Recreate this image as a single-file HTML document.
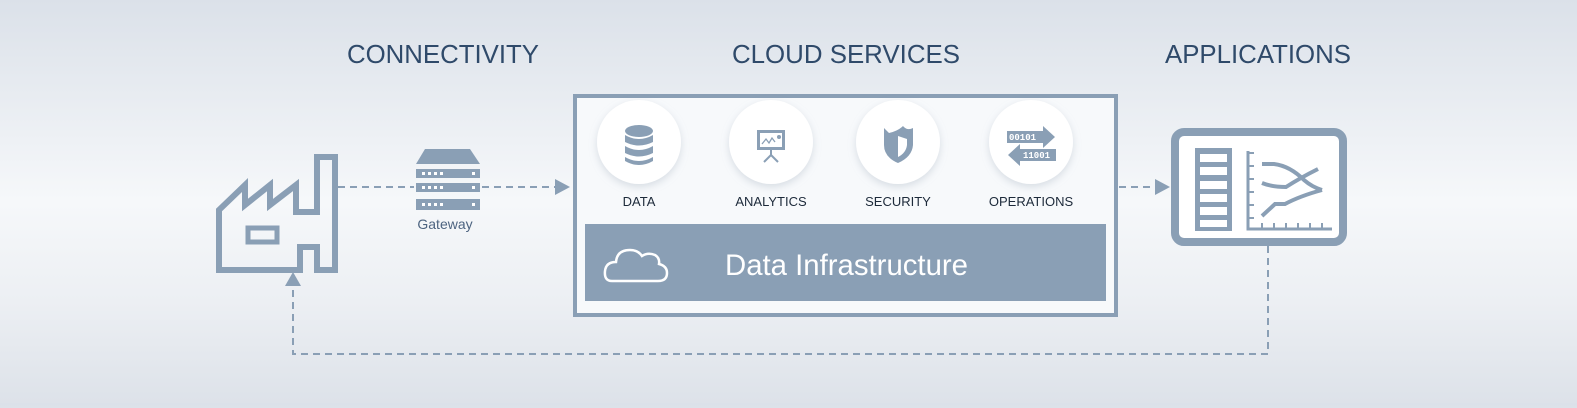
<!DOCTYPE html>
<html><head><meta charset="utf-8"><style>
html,body{margin:0;padding:0}
body{width:1577px;height:403px;overflow:hidden;background:linear-gradient(#dbe1e9 0%,#eef1f5 35%,#f6f8fa 50%,#eceff3 75%,#dde2e9 100%);font-family:"Liberation Sans",sans-serif}
</style></head><body>
<svg width="1577" height="403" viewBox="0 0 1577 403" xmlns="http://www.w3.org/2000/svg" font-family="Liberation Sans, sans-serif">
<defs><filter id="sh" x="-30%" y="-30%" width="160%" height="160%"><feDropShadow dx="0" dy="3" stdDeviation="4" flood-color="#9aa8b8" flood-opacity="0.35"/></filter></defs>
<g fill="#2f4a6a" font-size="26">
<text x="347" y="63" textLength="192" lengthAdjust="spacingAndGlyphs">CONNECTIVITY</text>
<text x="732" y="63" textLength="228" lengthAdjust="spacingAndGlyphs">CLOUD SERVICES</text>
<text x="1165" y="63" textLength="186" lengthAdjust="spacingAndGlyphs">APPLICATIONS</text>
</g>
<!-- factory -->
<path d="M219,270 V210 L245,185 V205 L270,185 V205 L296,185 V212 H317 V157 H335 V270 H317 V247 H300 V270 Z" fill="none" stroke="#8a9fb5" stroke-width="6" stroke-linejoin="miter"/>
<rect x="248" y="228" width="29" height="14" fill="none" stroke="#8a9fb5" stroke-width="5"/>
<!-- gateway -->
<g fill="#8a9fb5">
<polygon points="425,149 470,149 480,164 416,164"/>
<rect x="416" y="169" width="64" height="9"/><rect x="416" y="183" width="64" height="9"/><rect x="416" y="199" width="64" height="11"/>
</g>
<g fill="#fff"><rect x="422" y="172" width="3" height="3"/><rect x="428" y="172" width="3" height="3"/><rect x="434" y="172" width="3" height="3"/><rect x="440" y="172" width="3" height="3"/><rect x="472" y="172" width="3" height="3"/>
<rect x="422" y="186" width="3" height="3"/><rect x="428" y="186" width="3" height="3"/><rect x="434" y="186" width="3" height="3"/><rect x="440" y="186" width="3" height="3"/><rect x="472" y="186" width="3" height="3"/>
<rect x="422" y="203" width="3" height="3"/><rect x="428" y="203" width="3" height="3"/><rect x="434" y="203" width="3" height="3"/><rect x="440" y="203" width="3" height="3"/><rect x="472" y="203" width="3" height="3"/></g>
<text x="445" y="229" font-size="14" fill="#4d6480" text-anchor="middle">Gateway</text>
<!-- dashed connectors -->
<g stroke="#8a9fb5" stroke-width="2" stroke-dasharray="7,5" fill="none">
<line x1="338" y1="187" x2="414" y2="187"/><line x1="482" y1="187" x2="556" y2="187"/>
<line x1="1119" y1="187" x2="1156" y2="187"/>
<polyline points="1268,246 1268,354 293,354 293,284"/>
</g>
<g fill="#8a9fb5">
<polygon points="555,179 570,187 555,195"/>
<polygon points="1155,179 1170,187 1155,195"/>
<polygon points="285,286 293,272 301,286"/>
</g>
<!-- cloud box -->
<rect x="575" y="96" width="541" height="219" fill="#f7f9fb" stroke="#8a9fb5" stroke-width="4"/>
<rect x="585" y="224" width="521" height="77" fill="#8a9fb5"/>
<path d="M612,281 Q604,281 605,271 Q606,262 616,262 Q617,250 630,250 Q638,250 642,256 Q648,252 655,255 Q660,258 659,264 Q667,266 667,273 Q667,281 658,281 Z" fill="none" stroke="#fff" stroke-width="2.5"/>
<text x="725" y="275" font-size="30" fill="#fff" textLength="243" lengthAdjust="spacingAndGlyphs">Data Infrastructure</text>
<g fill="#fff" filter="url(#sh)">
<circle cx="639" cy="142" r="42"/><circle cx="771" cy="142" r="42"/><circle cx="898" cy="142" r="42"/><circle cx="1031" cy="142" r="42"/>
</g>
<g font-size="13" fill="#1d2a3a" text-anchor="middle">
<text x="639" y="206">DATA</text><text x="771" y="206">ANALYTICS</text><text x="898" y="206">SECURITY</text><text x="1031" y="206">OPERATIONS</text>
</g>
<!-- data icon -->
<g fill="#8a9fb5">
<ellipse cx="639" cy="131" rx="14" ry="6"/>
<path d="M625,135 Q639,143 653,135 V142 Q639,149 625,142 Z"/>
<path d="M625,146 Q639,154 653,146 V153 Q639,160 625,153 Z"/>
<path d="M625,157 Q639,165 653,157 V161 Q639,169 625,161 Z"/>
</g>
<!-- analytics icon -->
<g>
<rect x="757" y="130" width="28" height="20" fill="#8a9fb5"/>
<rect x="760" y="133" width="22" height="14" fill="#fff"/>
<polyline points="762,144 766,139 769,143 772,138 775,142" fill="none" stroke="#8a9fb5" stroke-width="1.3"/>
<circle cx="779" cy="137" r="2" fill="#8a9fb5"/>
<line x1="771" y1="150" x2="771" y2="156" stroke="#8a9fb5" stroke-width="2"/>
<line x1="771" y1="155" x2="764" y2="162" stroke="#8a9fb5" stroke-width="2"/>
<line x1="771" y1="155" x2="778" y2="162" stroke="#8a9fb5" stroke-width="2"/>
</g>
<!-- shield -->
<path d="M884,128 L889,133 Q898,131 903,126 Q907,131 913,128 V145 Q912,157 898,163 Q884,157 884,145 Z" fill="#8a9fb5"/>
<path d="M898,136 L907,139 V145 Q906,153 898,157 Z" fill="#fff"/>
<!-- operations -->
<g fill="#8a9fb5">
<polygon points="1007,132 1043,132 1043,127 1055,138 1043,149 1043,144 1007,144" transform="translate(0,-1)"/>
<polygon points="1056,149 1020,149 1020,144 1008,155 1020,166 1020,161 1056,161"/>
</g>
<g font-family="Liberation Mono, monospace" font-size="9" font-weight="bold" fill="#fff">
<text x="1009" y="140">00101</text><text x="1023" y="158">11001</text>
</g>
<!-- application -->
<rect x="1175" y="132" width="168" height="110" rx="9" fill="#fff" stroke="#8a9fb5" stroke-width="8"/>
<rect x="1195" y="148" width="37" height="83" fill="#8a9fb5"/>
<g fill="#fff"><rect x="1200" y="154" width="27" height="8"/><rect x="1200" y="167" width="27" height="8"/><rect x="1200" y="181" width="27" height="8"/><rect x="1200" y="194" width="27" height="8"/><rect x="1200" y="207" width="27" height="8"/><rect x="1200" y="220" width="27" height="7"/></g>
<g stroke="#8a9fb5" fill="none">
<polyline points="1248,151 1248,229 1332,229" stroke-width="3"/>
<path d="M1248,153h6M1248,166h6M1248,179h6M1248,192h6M1248,205h6M1248,218h6M1262,229v-6M1274,229v-6M1286,229v-6M1298,229v-6M1310,229v-6M1322,229v-6" stroke-width="2"/>
<path d="M1262,164 H1274 Q1290,166 1304,180 Q1312,187 1322,190" stroke-width="4"/>
<path d="M1262,183 Q1272,187 1286,187 Q1300,178 1318,169" stroke-width="4"/>
<path d="M1262,216 L1275,204 H1285 Q1300,196 1322,190" stroke-width="4"/>
</g>
</svg>
</body></html>
